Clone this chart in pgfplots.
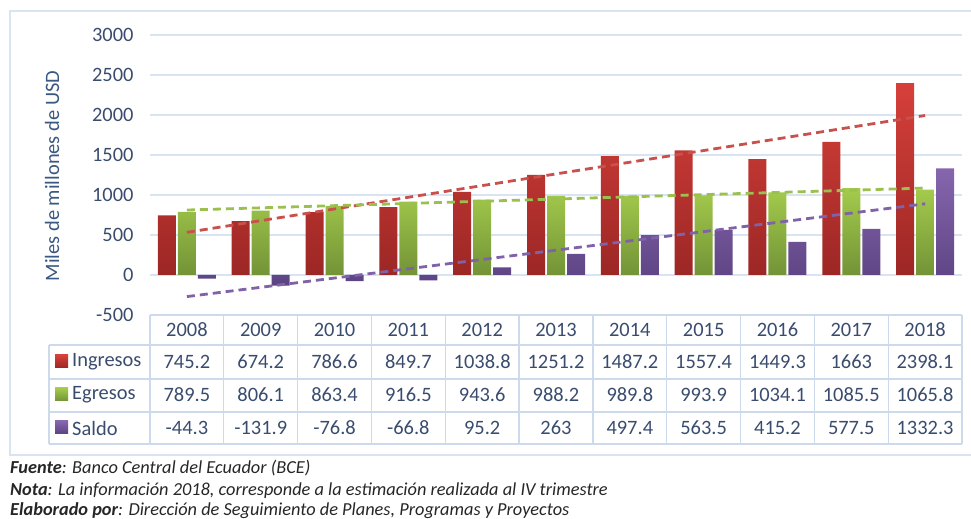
\documentclass[border=0pt]{standalone}
\usepackage{fontspec}
\setmainfont{Carlito}
\usepackage{pgfplots}
\pgfplotsset{compat=1.18}
\usepackage{pgfplotstable}

\definecolor{gridc}{HTML}{D9E4F2}
\definecolor{tabc}{HTML}{CCDAEC}
\definecolor{txt}{HTML}{3A4C6E}
\definecolor{ylab}{HTML}{3A5882}
\definecolor{redT}{HTML}{D6403A}
\definecolor{redB}{HTML}{9C2725}
\definecolor{grnT}{HTML}{A4CB4C}
\definecolor{grnB}{HTML}{739337}
\definecolor{purT}{HTML}{8666AE}
\definecolor{purB}{HTML}{5C4382}
\definecolor{redL}{HTML}{C9504C}
\definecolor{grnL}{HTML}{9BC04F}
\definecolor{purL}{HTML}{7F62A8}

\pgfplotstableread{
x ing egr sal
0 745.2 789.5 -44.3
1 674.2 806.1 -131.9
2 786.6 863.4 -76.8
3 849.7 916.5 -66.8
4 1038.8 943.6 95.2
5 1251.2 988.2 263
6 1487.2 989.8 497.4
7 1557.4 993.9 563.5
8 1449.3 1034.1 415.2
9 1663 1085.5 577.5
10 2398.1 1065.8 1332.3
}\data

\pgfplotstableread{
x ing egr sal
0 533 812 -270
10 1994 1087 890
}\trend

\begin{document}
\begin{tikzpicture}
\path[use as bounding box] (0,0) rectangle (971bp,519bp);
\draw[gridc, line width=1.5bp] (10bp,64bp) rectangle (975bp,508bp);
\begin{axis}[
  at={(150bp,204bp)}, anchor=south west, scale only axis,
  width=812bp, height=280bp,
  xmin=-0.5, xmax=10.5, ymin=-500, ymax=3000,
  ytick={-500,0,500,1000,1500,2000,2500,3000},
  xtick=\empty,
  ymajorgrids, grid style={gridc, line width=1.3bp},
  axis line style={draw=none}, major tick length=0,
  yticklabel style={font=\fontsize{20.5}{24}\selectfont, text=txt, xshift=-13bp},
  /pgf/number format/assume math mode=true,
  /pgf/number format/set thousands separator={},
  clip=false, bar width=18bp,
]
\addplot[ybar, bar shift=-20bp, draw=none, top color=redT, bottom color=redB] table[x=x,y=ing]{\data};
\addplot[ybar, bar shift=0bp, draw=none, top color=grnT, bottom color=grnB] table[x=x,y=egr]{\data};
\addplot[ybar, bar shift=20bp, draw=none, top color=purT, bottom color=purB] table[x=x,y=sal]{\data};
\addplot[redL, line width=2.8bp, dash pattern=on 8bp off 5bp] table[x=x,y=ing]{\trend};
\addplot[grnL, line width=2.8bp, dash pattern=on 8bp off 5bp] table[x=x,y=egr]{\trend};
\addplot[purL, line width=2.8bp, dash pattern=on 8bp off 5bp] table[x=x,y=sal]{\trend};
\end{axis}
\begin{scope}[x=1bp, y=1bp, font=\fontsize{20.5}{24}\selectfont]
\node[rotate=90, text=ylab] at (52,343) {Miles de millones de USD};
% table grid
\draw[tabc, line width=1.3bp] (150,204) -- (962,204);
\foreach \yy in {174,140,107,75} \draw[tabc, line width=1.3bp] (49,\yy) -- (962,\yy);
\draw[tabc, line width=1.3bp] (49,174) -- (49,75);
\foreach \k in {0,...,11} \draw[tabc, line width=1.3bp] ({150+73.82*\k},204) -- ({150+73.82*\k},75);
\foreach \t [count=\i from 0] in {2008,2009,2010,2011,2012,2013,2014,2015,2016,2017,2018}
  \node[text=txt] at ({186.9+73.82*\i},189) {\t};
\foreach \t [count=\i from 0] in {745.2,674.2,786.6,849.7,1038.8,1251.2,1487.2,1557.4,1449.3,1663,2398.1}
  \node[text=txt] at ({186.9+73.82*\i},157) {\t};
\foreach \t [count=\i from 0] in {789.5,806.1,863.4,916.5,943.6,988.2,989.8,993.9,1034.1,1085.5,1065.8}
  \node[text=txt] at ({186.9+73.82*\i},124) {\t};
\foreach \t [count=\i from 0] in {-44.3,-131.9,-76.8,-66.8,95.2,263,497.4,563.5,415.2,577.5,1332.3}
  \node[text=txt] at ({186.9+73.82*\i},91) {\t};
\fill[top color=redT, bottom color=redB] (55,151) rectangle (68,164);
\fill[top color=grnT, bottom color=grnB] (55,118) rectangle (68,131);
\fill[top color=purT, bottom color=purB] (55,85) rectangle (68,98);
\node[anchor=west, text=txt, inner sep=0] at (72,157) {Ingresos};
\node[anchor=west, text=txt, inner sep=0] at (72,124) {Egresos};
\node[anchor=west, text=txt, inner sep=0] at (72,91) {Saldo};
% footnotes
\begin{scope}[font=\fontsize{18.4}{22}\selectfont\itshape]
\node[anchor=base west, inner sep=0, text=black!85] at (10,46) {\textbf{Fuente}: Banco Central del Ecuador (BCE)};
\node[anchor=base west, inner sep=0, text=black!85] at (10,24) {\textbf{Nota}: La información 2018, corresponde a la estimación realizada al IV trimestre};
\node[anchor=base west, inner sep=0, text=black!85] at (10,4) {\textbf{Elaborado por}: Dirección de Seguimiento de Planes, Programas y Proyectos};
\end{scope}
\end{scope}
\end{tikzpicture}
\end{document}
